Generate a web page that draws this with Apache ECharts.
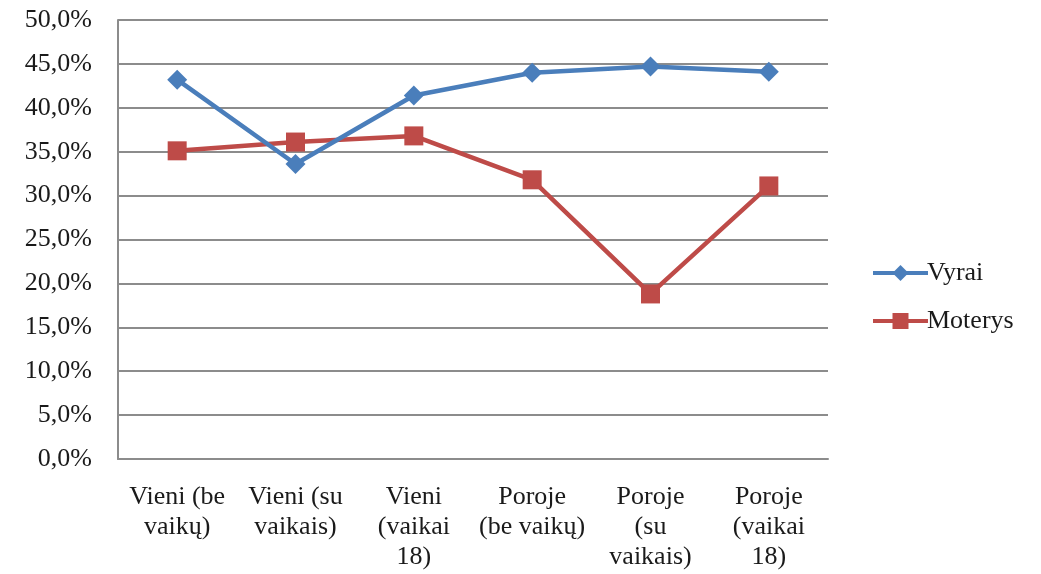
<!DOCTYPE html>
<html>
<head>
<meta charset="utf-8">
<script src="https://cdn.jsdelivr.net/npm/echarts@6/dist/echarts.min.js"></script>
<style>
html,body{margin:0;padding:0;background:#fff;}
#chart{width:1041px;height:574px;}
</style>
</head>
<body>
<div id="chart"></div>
<script>
var categories = ["Vieni (be\nvaikų)", "Vieni (su\nvaikais)", "Vieni\n(vaikai\n18)", "Poroje\n(be vaikų)", "Poroje\n(su\nvaikais)", "Poroje\n(vaikai\n18)"];
var vyrai = [43.2, 33.6, 41.4, 44.0, 44.7, 44.1];
var moterys = [35.1, 36.1, 36.8, 31.8, 18.8, 31.1];
var seriesNames = ["Vyrai", "Moterys"];

var FONT = "'Liberation Serif', 'Times New Roman', serif";
var chart = echarts.init(document.getElementById('chart'));
chart.setOption({
  animation: false,
  backgroundColor: '#ffffff',
  textStyle: { fontFamily: FONT, color: '#1a1a1a' },
  grid: { left: 118, right: 213, top: 20, bottom: 115, containLabel: false },
  legend: {
    orient: 'vertical',
    left: 866,
    top: 255,
    itemWidth: 55,
    itemHeight: 20,
    itemGap: 22,
    lineStyle: { width: 4 },
    textStyle: { fontFamily: FONT, fontSize: 26, color: '#1a1a1a', lineHeight: 20, padding: [0,0,0,-6] },
    data: seriesNames
  },
  xAxis: {
    type: 'category',
    data: categories,
    boundaryGap: true,
    axisLine: { show: true, lineStyle: { color: '#8c8c8c', width: 2 } },
    axisTick: { show: false },
    axisLabel: {
      interval: 0,
      margin: 23,
      fontFamily: FONT,
      fontSize: 26,
      lineHeight: 30,
      color: '#1a1a1a',
      align: 'center'
    },
    splitLine: { show: false }
  },
  yAxis: {
    type: 'value',
    min: 0,
    max: 50,
    interval: 5,
    axisLine: { show: true, lineStyle: { color: '#8c8c8c', width: 2 } },
    axisTick: { show: false },
    axisLabel: {
      margin: 26,
      fontFamily: FONT,
      fontSize: 26,
      color: '#1a1a1a',
      formatter: function (v) { return v.toFixed(1).replace('.', ',') + '%'; }
    },
    splitLine: { show: true, lineStyle: { color: '#8c8c8c', width: 2 } }
  },
  series: [
    {
      name: seriesNames[0],
      type: 'line',
      data: vyrai,
      symbol: 'diamond',
      symbolSize: 20,
      color: '#4a7ebb',
      lineStyle: { width: 4.5, color: '#4a7ebb' },
      itemStyle: { color: '#4a7ebb' },
      z: 3
    },
    {
      name: seriesNames[1],
      type: 'line',
      data: moterys,
      symbol: 'rect',
      symbolSize: 19,
      color: '#be4b48',
      lineStyle: { width: 4.5, color: '#be4b48' },
      itemStyle: { color: '#be4b48' },
      z: 2
    }
  ]
});
</script>
</body>
</html>
